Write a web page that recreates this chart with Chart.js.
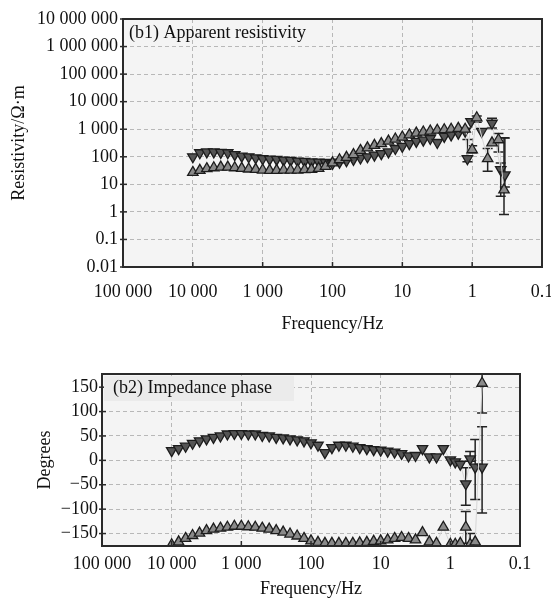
<!DOCTYPE html>
<html>
<head>
<meta charset="utf-8">
<script src="https://cdn.jsdelivr.net/npm/chart.js@4.4.1/dist/chart.umd.min.js"></script>
<style>
  html, body { margin: 0; padding: 0; background: #fff; overflow: hidden; }
  #top { position: absolute; left: 0; top: 0; width: 551px; height: 340px; }
  #bottom { position: absolute; left: 0; top: 355px; width: 551px; height: 243px; }
</style>
</head>
<body>
<div id="top"><canvas id="resistivity"></canvas></div>
<div id="bottom"><canvas id="phase"></canvas></div>
<script>
// frequencies shared by the main part of every curve (Hz)
const freq = [10000, 7943, 6310, 5012, 3981, 3162, 2512, 1995, 1585, 1259,
  1000, 794, 631, 501, 398, 316, 251, 200, 158, 126,
  100, 79.4, 63.1, 50.1, 39.8, 31.6, 25.1, 20, 15.8, 12.6,
  10, 7.94, 6.31, 5.01, 3.98, 3.16, 2.51, 2.0, 1.58, 1.26]

// apparent resistivity (ohm m), down triangles / up triangles
const rhoDown = [100, 140, 150, 150, 145, 140, 120, 105, 100, 92,
  85, 82, 80, 76, 74, 70, 68, 65, 64, 62,
  57, 64, 72, 80, 90, 100, 115, 130, 150, 200,
  240, 300, 360, 400, 460, 330, 550, 620, 720, 850]
const rhoUp = [27, 32, 37, 40, 42, 42, 40, 38, 36, 35,
  33, 32, 32, 33, 33, 33, 34, 35, 38, 45,
  60, 78, 95, 120, 170, 210, 260, 300, 370, 440,
  520, 620, 720, 790, 860, 920, 960, 1000, 1080, 1000]

// noisy low-frequency ends with error bars
const rhoDownTailF = [1.17, 1.04, 0.73, 0.52, 0.39, 0.34]
const rhoDownTail = [85, 1900, 830, 1650, 34, 22]
const rhoDownLo = [66, null, null, 1100, 3.7, 8]
const rhoDownHi = [420, null, null, 2500, 60, 480]
const rhoUpTailF = [1.0, 0.86, 0.6, 0.52, 0.42, 0.35]
const rhoUpTail = [180, 2600, 85, 320, 415, 6.3]
const rhoUpLo = [140, 1800, 30, null, 150, 0.8]
const rhoUpHi = [250, 3000, 200, null, 700, 490]

// impedance phase (degrees)
const phaseDown = [20, 24, 29, 35, 40, 44, 47, 50, 54, 55,
  55, 54, 54, 51, 50, 47, 46, 44, 42, 40,
  36, 31, 16, 26, 31, 31, 29, 26, 24, 22,
  21, 19, 17, 14, 9, 10, 24, 7, 7, 24]
const phaseUp = [-173, -167, -160, -154, -149, -144, -141, -139, -137, -135,
  -135, -136, -137, -139, -141, -144, -147, -151, -155, -160,
  -165, -168, -170, -170, -170, -170, -170, -169, -168, -166,
  -165, -163, -160, -158, -160, -163, -148, -167, -170, -137]
const phaseTailF = [1.0, 0.85, 0.72, 0.6, 0.52, 0.44, 0.35]
const phaseDownTail = [1, -3, -8, -48, 3, -14, -14]
const phaseDownLo = [null, null, null, -92, -2, -80, -108]
const phaseDownHi = [null, null, null, -15, 18, 43, 69]
const phaseUpTail = [-172, -172, -170, -137, -172, -167, 158]
const phaseUpLo = [null, null, null, -170, -175, null, 97]
const phaseUpHi = [null, null, null, -105, -150, null, 180]

// axis ticks
const freqTicks = [100000, 10000, 1000, 100, 10, 1, 0.1]
const freqLabels = ['100 000', '10 000', '1 000', '100', '10', '1', '0.1']
const rhoTicks = [0.01, 0.1, 1, 10, 100, 1000, 10000, 100000, 1000000, 10000000]
const rhoLabels = ['0.01', '0.1', '1', '10', '100', '1 000', '10 000', '100 000', '1 000 000', '10 000 000']
const phaseTicks = [-150, -100, -50, 0, 50, 100, 150]
const phaseLabels = ['\u2212150', '\u2212100', '\u221250', '0', '50', '100', '150']

Chart.defaults.font.family = "'Liberation Serif', 'Times New Roman', serif"
Chart.defaults.font.size = 18
Chart.defaults.color = '#111'

function points(fs, vs) {
  return fs.map((f, i) => ({x: f, y: vs[i]}))
}
function pad(n) {
  return new Array(n).fill(null)
}

function series(main, tailF, tail, lo, hi, down) {
  return {
    data: points(freq, main).concat(points(tailF, tail)),
    errLo: pad(freq.length).concat(lo),
    errHi: pad(freq.length).concat(hi),
    showLine: true,
    borderColor: '#d6d6d6',
    borderWidth: 1,
    pointStyle: 'triangle',
    pointRotation: down ? 180 : 0,
    pointRadius: 6,
    pointBackgroundColor: down ? '#555' : '#8a8a8a',
    pointBorderColor: '#1c1c1c',
    pointBorderWidth: 1.3
  }
}

// plot background, error bars, frame, inner ticks and panel label
const panel = {
  id: 'panel',
  beforeDraw(chart) {
    const {ctx, chartArea: a} = chart
    ctx.save()
    ctx.fillStyle = '#f4f4f4'
    ctx.fillRect(a.left, a.top, a.right - a.left, a.bottom - a.top)
    ctx.restore()
  },
  beforeDatasetsDraw(chart) {
    const {ctx, chartArea: a, scales: {x, y}} = chart
    ctx.save()
    ctx.beginPath()
    ctx.rect(a.left, a.top, a.right - a.left, a.bottom - a.top)
    ctx.clip()
    ctx.strokeStyle = '#222'
    ctx.lineWidth = 1.5
    chart.data.datasets.forEach(ds => {
      ds.data.forEach((p, i) => {
        const lo = ds.errLo[i], hi = ds.errHi[i]
        if (lo == null || hi == null) return
        const px = x.getPixelForValue(p.x)
        const y1 = y.getPixelForValue(lo), y2 = y.getPixelForValue(hi)
        ctx.beginPath()
        ctx.moveTo(px, y1); ctx.lineTo(px, y2)
        ctx.moveTo(px - 5, y1); ctx.lineTo(px + 5, y1)
        ctx.moveTo(px - 5, y2); ctx.lineTo(px + 5, y2)
        ctx.stroke()
      })
    })
    ctx.restore()
  },
  afterDraw(chart, args, opts) {
    const {ctx, chartArea: a, scales: {x, y}} = chart
    ctx.save()
    ctx.strokeStyle = '#2a2a2a'
    ctx.lineWidth = 1.5
    y.ticks.forEach(t => {
      const py = y.getPixelForValue(t.value)
      ctx.beginPath(); ctx.moveTo(a.left - 3, py); ctx.lineTo(a.left + 4, py); ctx.stroke()
    })
    x.ticks.forEach(t => {
      const px = x.getPixelForValue(t.value)
      ctx.beginPath(); ctx.moveTo(px, a.bottom); ctx.lineTo(px, a.bottom - 5); ctx.stroke()
    })
    ctx.lineWidth = 2
    ctx.strokeRect(a.left, a.top, a.right - a.left, a.bottom - a.top)
    if (opts.box) {
      ctx.fillStyle = '#ebebeb'
      ctx.fillRect(a.left + 2, a.top + 2, opts.box, 25)
    }
    ctx.fillStyle = '#111'
    ctx.font = "18px 'Liberation Serif', 'Times New Roman', serif"
    ctx.textBaseline = 'middle'
    ctx.fillText(opts.text, a.left + opts.dx, a.top + opts.dy)
    ctx.restore()
  }
}

function freqAxis(height, padding, titlePad) {
  return {
    type: 'logarithmic',
    reverse: true,
    min: 0.1,
    max: 100000,
    afterBuildTicks: s => { s.ticks = freqTicks.map(v => ({value: v})) },
    afterFit: s => { s.height = height; s.paddingLeft = 0; s.paddingRight = 0 },
    ticks: {padding: padding, maxRotation: 0, autoSkip: false, callback: (v, i) => freqLabels[i]},
    grid: {color: '#b8b8b8', drawTicks: false},
    border: {display: false, dash: [4, 3]},
    title: {display: true, text: 'Frequency/Hz', font: {size: 18, lineHeight: 1}, padding: {top: 0, bottom: titlePad}}
  }
}

new Chart('resistivity', {
  type: 'scatter',
  data: {
    datasets: [
      series(rhoUp, rhoUpTailF, rhoUpTail, rhoUpLo, rhoUpHi, false),
      series(rhoDown, rhoDownTailF, rhoDownTail, rhoDownLo, rhoDownHi, true)
    ]
  },
  options: {
    animation: false,
    responsive: true,
    maintainAspectRatio: false,
    layout: {autoPadding: false, padding: {top: 19, right: 9, left: 0, bottom: 0}},
    plugins: {
      legend: {display: false},
      tooltip: {enabled: false},
      panel: {text: '(b1) Apparent resistivity', dx: 6, dy: 14, box: 0}
    },
    scales: {
      x: freqAxis(73, 14, 7),
      y: {
        type: 'logarithmic',
        min: 0.01,
        max: 10000000,
        afterBuildTicks: s => { s.ticks = rhoTicks.map(v => ({value: v})) },
        afterFit: s => { s.width = 123; s.paddingTop = 0; s.paddingBottom = 0 },
        ticks: {padding: 5, autoSkip: false, callback: (v, i) => rhoLabels[i]},
        grid: {color: '#b8b8b8', drawTicks: false},
        border: {display: false, dash: [4, 3]},
        title: {display: true, text: 'Resistivity/\u03a9\u00b7m', font: {size: 18}, padding: {top: 8, bottom: 0}}
      }
    }
  },
  plugins: [panel]
})

new Chart('phase', {
  type: 'scatter',
  data: {
    datasets: [
      series(phaseUp, phaseTailF, phaseUpTail, phaseUpLo, phaseUpHi, false),
      series(phaseDown, phaseTailF, phaseDownTail, phaseDownLo, phaseDownHi, true)
    ]
  },
  options: {
    animation: false,
    responsive: true,
    maintainAspectRatio: false,
    layout: {autoPadding: false, padding: {top: 19, right: 31, left: 0, bottom: 0}},
    plugins: {
      legend: {display: false},
      tooltip: {enabled: false},
      panel: {text: '(b2) Impedance phase', dx: 11, dy: 14, box: 190}
    },
    scales: {
      x: freqAxis(52, 7, 0),
      y: {
        min: -175.5,
        max: 177,
        afterBuildTicks: s => { s.ticks = phaseTicks.map(v => ({value: v})) },
        afterFit: s => { s.width = 102; s.paddingTop = 0; s.paddingBottom = 0 },
        ticks: {padding: 4, autoSkip: false, callback: (v, i) => phaseLabels[i]},
        grid: {color: '#b8b8b8', drawTicks: false},
        border: {display: false, dash: [4, 3]},
        title: {display: true, text: 'Degrees', font: {size: 18}, padding: {top: 34, bottom: 0}}
      }
    }
  },
  plugins: [panel]
})
</script>
</body>
</html>
